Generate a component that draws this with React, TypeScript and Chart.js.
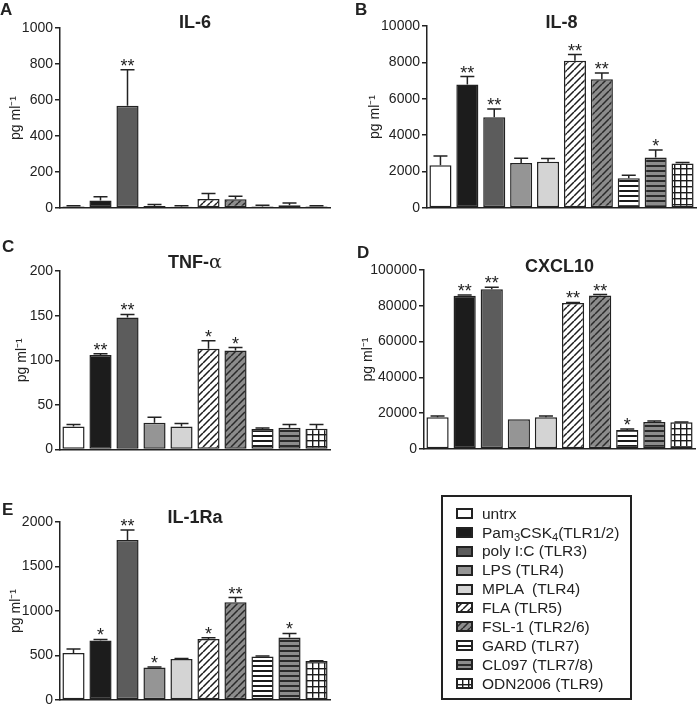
import React, { useEffect, useRef } from "react";
import { Chart, registerables } from "chart.js";

Chart.register(...registerables);

const FONT = '"Liberation Sans", Arial, Helvetica, sans-serif';
const INK = "#222222";

// ---------------- data ----------------
const categories = [
  "untrx",
  "Pam3CSK4(TLR1/2)",
  "poly I:C (TLR3)",
  "LPS (TLR4)",
  "MPLA  (TLR4)",
  "FLA (TLR5)",
  "FSL-1 (TLR2/6)",
  "GARD (TLR7)",
  "CL097 (TLR7/8)",
  "ODN2006 (TLR9)",
];

const il6Values = [8, 41, 568, 11, 7, 50, 48, 9, 15, 8];
const il6Errors = [5, 22, 200, 8, 6, 30, 17, 6, 13, 4];
const il6Stars = ["", "", "**", "", "", "", "", "", "", ""];
const il6Ticks = [0, 200, 400, 600, 800, 1000];

const il8Values = [2350, 6780, 4990, 2470, 2540, 8090, 7070, 1630, 2780, 2450];
const il8Errors = [510, 440, 450, 260, 180, 340, 350, 170, 410, 50];
const il8Stars = ["", "**", "**", "", "", "**", "**", "", "*", ""];
const il8Ticks = [0, 2000, 4000, 6000, 8000, 10000];

const tnfValues = [26, 106, 148, 30, 26, 113, 111, 23, 24.5, 23.4];
const tnfErrors = [2, 1.2, 3.4, 6.3, 3.3, 9, 3.3, 1.1, 3.5, 4.6];
const tnfStars = ["", "**", "**", "", "", "*", "*", "", "", ""];
const tnfTicks = [0, 50, 100, 150, 200];

const cxcl10Values = [17700, 85600, 89300, 16600, 17700, 81500, 85800, 10600, 15100, 14900];
const cxcl10Errors = [700, 500, 1100, 0, 800, 400, 500, 600, 600, 200];
const cxcl10Stars = ["", "**", "**", "", "", "**", "**", "*", "", ""];
const cxcl10Ticks = [0, 20000, 40000, 60000, 80000, 100000];

const il1raValues = [527, 669, 1798, 366, 460, 684, 1099, 490, 703, 437];
const il1raErrors = [45, 11, 112, 4, 7, 15, 52, 3, 45, 3];
const il1raStars = ["", "*", "**", "*", "", "*", "**", "", "*", ""];
const il1raTicks = [0, 500, 1000, 1500, 2000];

// ---------------- styles ----------------
type FillStyle = { bg: string; hatch: "none" | "diag" | "horiz" | "grid"; line?: string };
const FILLS: FillStyle[] = [
  { bg: "#ffffff", hatch: "none" },
  { bg: "#1c1c1c", hatch: "none" },
  { bg: "#5c5c5c", hatch: "none" },
  { bg: "#959595", hatch: "none" },
  { bg: "#d4d4d4", hatch: "none" },
  { bg: "#ffffff", hatch: "diag", line: "#1c1c1c" },
  { bg: "#8c8c8c", hatch: "diag", line: "#2a2a2a" },
  { bg: "#ffffff", hatch: "horiz", line: "#1c1c1c" },
  { bg: "#8c8c8c", hatch: "horiz", line: "#2a2a2a" },
  { bg: "#ffffff", hatch: "grid", line: "#1c1c1c" },
];

function makeFill(style: FillStyle): string | CanvasPattern {
  if (style.hatch === "none") return style.bg;
  const c = document.createElement("canvas");
  const ctx = c.getContext("2d")!;
  if (style.hatch === "diag") {
    const s = 7;
    c.width = s;
    c.height = s;
    ctx.fillStyle = style.bg;
    ctx.fillRect(0, 0, s, s);
    ctx.strokeStyle = style.line!;
    ctx.lineWidth = 1.5;
    ctx.beginPath();
    for (let k = -1; k <= 1; k++) {
      ctx.moveTo(k * s, s);
      ctx.lineTo(k * s + s, 0);
    }
    ctx.stroke();
  } else if (style.hatch === "horiz") {
    c.width = 4;
    c.height = 5;
    ctx.fillStyle = style.bg;
    ctx.fillRect(0, 0, 4, 5);
    ctx.fillStyle = style.line!;
    ctx.fillRect(0, 0, 4, 2);
  } else {
    c.width = 6;
    c.height = 6;
    ctx.fillStyle = style.bg;
    ctx.fillRect(0, 0, 6, 6);
    ctx.fillStyle = style.line!;
    ctx.fillRect(0, 0, 6, 1.4);
    ctx.fillRect(0, 0, 1.4, 6);
  }
  return ctx.createPattern(c, "repeat")!;
}

// ---------------- plugins ----------------
const errorBarPlugin = {
  id: "errorBars",
  afterDatasetsDraw(chart: any, _args: any, opts: any) {
    const { ctx } = chart;
    const meta = chart.getDatasetMeta(0);
    const yScale = chart.scales.y;
    const vals = chart.data.datasets[0].data as number[];
    ctx.save();
    meta.data.forEach((bar: any, i: number) => {
      const err = opts.errors[i] || 0;
      const top = yScale.getPixelForValue(vals[i] + err);
      const x = bar.x;
      if (err > 0) {
        ctx.strokeStyle = INK;
        ctx.lineWidth = 1.5;
        ctx.beginPath();
        ctx.moveTo(x, bar.y);
        ctx.lineTo(x, top);
        ctx.moveTo(x - 7, top);
        ctx.lineTo(x + 7, top);
        ctx.stroke();
      }
      const star = opts.stars[i];
      if (star) {
        ctx.fillStyle = INK;
        ctx.font = `18px ${FONT}`;
        ctx.textAlign = "center";
        ctx.textBaseline = "alphabetic";
        ctx.fillText(star, x, top + 2);
      }
    });
    ctx.restore();
  },
};

const decorPlugin = {
  id: "panelDecor",
  afterDraw(chart: any, _args: any, opts: any) {
    const { ctx, chartArea } = chart;
    ctx.save();
    ctx.fillStyle = INK;
    ctx.textBaseline = "alphabetic";
    ctx.textAlign = "left";
    ctx.font = `bold 17px ${FONT}`;
    ctx.fillText(opts.letter, opts.letterX, opts.letterY);
    const parts: { t: string; bold: boolean }[] = opts.title;
    const fonts = parts.map((p) =>
      p.bold ? `bold 18px ${FONT}` : `19px "DejaVu Serif", "Liberation Serif", serif`
    );
    let total = 0;
    const widths = parts.map((p, i) => {
      ctx.font = fonts[i];
      const w = ctx.measureText(p.t).width;
      total += w;
      return w;
    });
    let x = (chartArea.left + chartArea.right) / 2 - total / 2;
    parts.forEach((p, i) => {
      ctx.font = fonts[i];
      ctx.fillText(p.t, x, opts.titleY);
      x += widths[i];
    });
    ctx.restore();
  },
};

// ---------------- layout ----------------
type PanelCfg = {
  letter: string;
  title: { t: string; bold: boolean }[];
  values: number[];
  errors: number[];
  stars: string[];
  ticks: number[];
  left: number;
  top: number;
  width: number;
  height: number;
  yWidth: number;
  padTop: number;
  padRight: number;
  padBottom: number;
  yTitlePad: number;
  letterX: number;
  letterY: number;
  titleY: number;
};

const PANELS: PanelCfg[] = [
  {
    letter: "A", title: [{ t: "IL-6", bold: true }],
    values: il6Values, errors: il6Errors, stars: il6Stars, ticks: il6Ticks,
    left: 0, top: 0, width: 340, height: 230, yWidth: 60, padTop: 28, padRight: 10, padBottom: 22,
    yTitlePad: 8, letterX: 0, letterY: 15, titleY: 28,
  },
  {
    letter: "B", title: [{ t: "IL-8", bold: true }],
    values: il8Values, errors: il8Errors, stars: il8Stars, ticks: il8Ticks,
    left: 350, top: 0, width: 349, height: 230, yWidth: 77, padTop: 26, padRight: 3, padBottom: 22,
    yTitlePad: 17, letterX: 5, letterY: 15, titleY: 28,
  },
  {
    letter: "C", title: [{ t: "TNF-", bold: true }, { t: "α", bold: false }],
    values: tnfValues, errors: tnfErrors, stars: tnfStars, ticks: tnfTicks,
    left: 0, top: 230, width: 340, height: 230, yWidth: 60, padTop: 41, padRight: 10, padBottom: 10,
    yTitlePad: 14, letterX: 2, letterY: 22, titleY: 38,
  },
  {
    letter: "D", title: [{ t: "CXCL10", bold: true }],
    values: cxcl10Values, errors: cxcl10Errors, stars: cxcl10Stars, ticks: cxcl10Ticks,
    left: 350, top: 230, width: 349, height: 230, yWidth: 74, padTop: 40, padRight: 4, padBottom: 11,
    yTitlePad: 10, letterX: 7, letterY: 28, titleY: 42,
  },
  {
    letter: "E", title: [{ t: "IL-1Ra", bold: true }],
    values: il1raValues, errors: il1raErrors, stars: il1raStars, ticks: il1raTicks,
    left: 0, top: 470, width: 340, height: 245, yWidth: 60, padTop: 52, padRight: 10, padBottom: 15,
    yTitlePad: 8, letterX: 2, letterY: 45, titleY: 53,
  },
];

function Panel({ cfg }: { cfg: PanelCfg }) {
  const ref = useRef<HTMLCanvasElement>(null);
  useEffect(() => {
    const canvas = ref.current!;
    const ticks = cfg.ticks;
    const chart = new Chart(canvas, {
      type: "bar",
      data: {
        labels: categories,
        datasets: [
          {
            data: cfg.values,
            backgroundColor: FILLS.map(makeFill) as any,
            borderColor: INK,
            borderWidth: 1.5,
            borderSkipped: false,
            barPercentage: 0.82,
            categoryPercentage: 1,
          },
        ],
      },
      options: {
        responsive: false,
        maintainAspectRatio: false,
        animation: false,
        layout: { padding: { left: 0, right: cfg.padRight, top: cfg.padTop, bottom: cfg.padBottom } },
        plugins: {
          legend: { display: false },
          tooltip: { enabled: false },
          title: { display: false },
          errorBars: { errors: cfg.errors, stars: cfg.stars },
          panelDecor: { letter: cfg.letter, letterX: cfg.letterX, letterY: cfg.letterY, title: cfg.title, titleY: cfg.titleY },
        } as any,
        scales: {
          x: {
            type: "category",
            ticks: { display: false },
            grid: { display: false, drawTicks: false },
            border: { display: true, color: INK, width: 1.5 },
            afterFit: (s: any) => {
              s.height = 0;
            },
          },
          y: {
            min: ticks[0],
            max: ticks[ticks.length - 1],
            ticks: {
              stepSize: ticks[1] - ticks[0],
              color: INK,
              font: { size: 14, family: FONT },
              padding: 2,
              callback: (v: any) => String(v),
            },
            grid: { display: true, drawOnChartArea: false, drawTicks: true, tickLength: 5, color: INK, lineWidth: 1.5 },
            border: { display: true, color: INK, width: 1.5 },
            title: {
              display: true,
              text: "pg ml\u207B\u00B9",
              color: INK,
              font: { size: 14, family: FONT },
              padding: { top: cfg.yTitlePad, bottom: 0 },
            },
            afterFit: (s: any) => {
              s.width = cfg.yWidth;
            },
          },
        },
      },
      plugins: [errorBarPlugin, decorPlugin],
    } as any);
    return () => chart.destroy();
  }, [cfg]);
  return (
    <canvas
      ref={ref}
      width={cfg.width}
      height={cfg.height}
      style={{ position: "absolute", left: cfg.left, top: cfg.top, width: cfg.width, height: cfg.height }}
    />
  );
}

function Swatch({ idx }: { idx: number }) {
  const ref = useRef<HTMLCanvasElement>(null);
  useEffect(() => {
    const c = ref.current!;
    const ctx = c.getContext("2d")!;
    ctx.fillStyle = makeFill(FILLS[idx]) as any;
    ctx.fillRect(0, 0, 17, 11);
    ctx.strokeStyle = INK;
    ctx.lineWidth = 2;
    ctx.strokeRect(1, 1, 15, 9);
  }, [idx]);
  return <canvas ref={ref} width={17} height={11} style={{ display: "block", flex: "none" }} />;
}

function renderLabel(label: string) {
  if (label.startsWith("Pam3CSK4")) {
    const rest = label.slice("Pam3CSK4".length);
    const subStyle: React.CSSProperties = { fontSize: "0.72em", verticalAlign: "-0.3em", lineHeight: 0 };
    return (
      <>
        Pam<span style={subStyle}>3</span>CSK<span style={subStyle}>4</span>
        {rest}
      </>
    );
  }
  return label;
}

function Legend() {
  return (
    <div
      style={{
        position: "absolute",
        left: 441,
        top: 495,
        width: 191,
        height: 205,
        boxSizing: "border-box",
        border: `2px solid ${INK}`,
        paddingTop: 7,
        fontFamily: FONT,
        fontSize: 15.5,
        color: INK,
        background: "#fff",
      }}
    >
      {categories.map((c, i) => (
        <div key={i} style={{ display: "flex", alignItems: "center", height: 18.9, whiteSpace: "pre" }}>
          <div style={{ width: 13, flex: "none" }} />
          <Swatch idx={i} />
          <div style={{ marginLeft: 9, lineHeight: 1 }}>{renderLabel(c)}</div>
        </div>
      ))}
    </div>
  );
}

export default function App() {
  return (
    <div
      style={{
        position: "absolute",
        left: 0,
        top: 0,
        width: 699,
        height: 705,
        overflow: "hidden",
        background: "#ffffff",
      }}
    >
      {PANELS.map((p) => (
        <Panel key={p.letter} cfg={p} />
      ))}
      <Legend />
    </div>
  );
}
